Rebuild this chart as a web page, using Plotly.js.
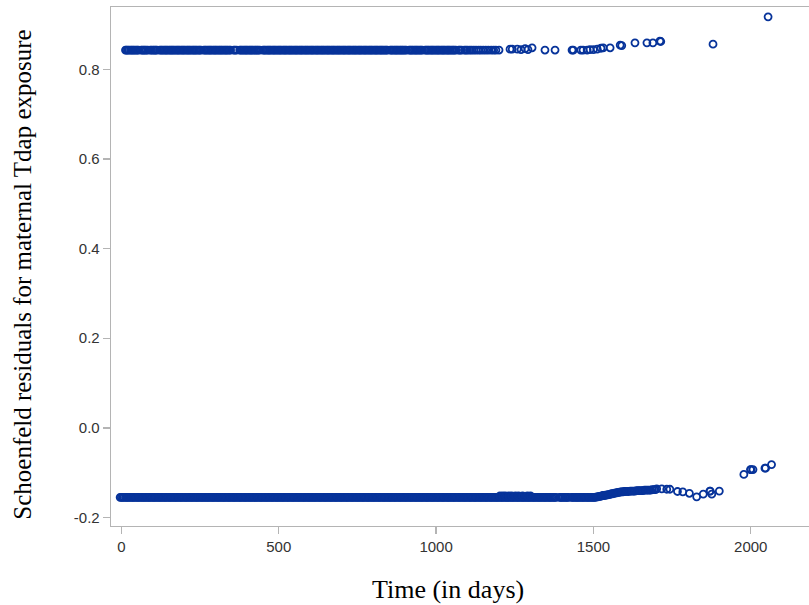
<!DOCTYPE html>
<html>
<head>
<meta charset="utf-8">
<script src="https://cdn.plot.ly/plotly-3.0.1.min.js"></script>
<style>html,body{margin:0;padding:0;background:#fff;}#chart{width:809px;height:605px;}</style>
</head>
<body>
<div id="chart"></div>
<script>
// ---- Data (time in days, Schoenfeld residual) ----
// Exposed events: dense band of event times at the upper residual level
var upperBandLevel = 0.843;
var upperBandX = [13,16,20,24,29,33,37,41,46,50,54,63,67,71,75,79,84,92,96,101,105,109,113,122,126,130,135,139,143,147,152,156,160,164,168,173,177,181,185,190,194,198,202,207,211,215,219,224,228,232,236,240,245,249,253,262,266,270,275,279,283,287,292,296,300,304,309,313,317,321,326,330,334,338,343,347,357,361,366,376,380,384,389,393,397,401,406,410,414,418,423,427,431,435,440,450,454,458,463,467,471,475,480,484,488,492,497,501,505,509,514,518,522,526,531,535,539,543,548,552,556,560,565,569,573,577,582,586,590,594,599,603,607,611,616,620,624,628,633,637,641,645,650,654,658,662,667,671,675,679,684,688,692,696,701,705,709,713,718,722,726,730,735,739,743,747,752,756,760,764,769,773,777,781,786,790,794,798,803,807,811,815,820,824,828,832,837,841,845,854,858,862,867,871,875,879,884,888,892,896,901,905,914,918,922,926,931,935,939,943,948,952,956,965,969,973,977,982,986,990,994,999,1003,1007,1011,1016,1020,1024,1028,1033,1037,1041,1045,1050,1054,1058,1063,1072,1076,1081,1090,1095,1100,1107,1113,1120,1127,1135,1142,1150,1158,1166,1175,1183,1190];
// Exposed events: sparse late points
var upperSparseX = [1200,1235,1242,1258,1270,1283,1292,1305,1346,1378,1432,1436,1460,1467,1480,1489,1500,1512,1524,1531,1553,1585,1590,1632,1670,1689,1711,1714,1880,2055];
var upperSparseY = [0.843,0.845,0.845,0.845,0.844,0.846,0.844,0.848,0.843,0.843,0.843,0.843,0.843,0.843,0.843,0.844,0.844,0.845,0.847,0.848,0.848,0.854,0.853,0.859,0.859,0.859,0.863,0.862,0.856,0.917];

// Unexposed events: dense band of event times at the lower residual level
var lowerBandLevel = -0.155;
var lowerBandX = [-4,0,4,8,13,17,21,25,30,34,38,42,47,51,55,59,64,68,72,76,81,85,89,93,98,102,106,110,115,119,123,127,132,136,140,144,149,153,157,161,166,170,174,178,183,187,191,195,200,204,208,212,217,221,225,229,234,238,242,246,251,255,259,263,268,272,276,280,285,289,293,297,302,306,310,314,319,323,327,331,336,340,344,348,353,357,361,365,370,374,378,382,387,391,395,399,404,408,412,416,421,425,429,433,438,442,446,450,455,459,463,467,472,476,480,484,489,493,497,501,506,510,514,518,523,527,531,535,540,544,548,552,557,561,565,569,574,578,582,586,591,595,599,603,608,612,616,620,625,629,633,637,642,646,650,654,659,663,667,671,676,680,684,688,693,697,701,705,710,714,718,722,727,731,735,739,744,748,752,756,761,765,769,773,778,782,786,790,795,799,803,807,812,816,820,824,829,833,837,841,846,850,854,858,863,867,871,875,880,884,888,892,897,901,905,909,914,918,922,926,931,935,939,943,948,952,956,960,965,969,973,977,982,986,990,994,999,1003,1007,1011,1016,1020,1024,1028,1033,1037,1041,1045,1050,1054,1058,1062,1067,1071,1075,1079,1084,1088,1092,1096,1101,1105,1109,1113,1118,1122,1126,1130,1135,1139,1143,1147,1152,1156,1160,1164,1169,1173,1177,1181,1186,1190,1194,1198,1203,1207,1211,1215,1220,1224,1228,1232,1237,1241,1245,1249,1254,1258,1262,1266,1271,1275,1279,1283,1288,1292,1296,1300,1305,1309,1313,1317,1322,1326,1330,1334,1339,1343,1347,1351,1356,1360,1364,1368,1373,1377,1381,1392,1396,1400,1404,1409,1413,1417,1421,1430,1434,1438,1443,1447,1451,1455,1460,1464,1468,1472,1477,1481,1485,1489,1494,1498];
// Unexposed events: slightly raised points around 1200-1300
var lowerRaisedX = [1203,1212,1220,1231,1240,1252,1262,1275,1290,1300];
var lowerRaisedY = [-0.152,-0.152,-0.152,-0.152,-0.152,-0.152,-0.152,-0.152,-0.152,-0.152];
// Unexposed events: rising tail
var lowerTailX = [1502,1506,1510,1514,1518,1522,1526,1530,1534,1538,1542,1546,1550,1554,1558,1562,1566,1570,1574,1578,1582,1586,1590,1594,1598,1602,1607,1612,1617,1622,1627,1632,1637,1642,1647,1652,1657,1662,1667,1672,1677,1682,1687,1692,1697,1701,1717,1733,1743,1767,1784,1805,1828,1849,1870,1871,1876,1900,1978,1999,2001,2007,2045,2047,2066];
var lowerTailY = [-0.155,-0.155,-0.154,-0.154,-0.153,-0.153,-0.152,-0.151,-0.151,-0.150,-0.150,-0.149,-0.149,-0.148,-0.147,-0.147,-0.146,-0.145,-0.145,-0.144,-0.144,-0.143,-0.143,-0.143,-0.142,-0.142,-0.142,-0.142,-0.141,-0.141,-0.141,-0.141,-0.140,-0.140,-0.140,-0.140,-0.140,-0.139,-0.139,-0.139,-0.139,-0.139,-0.138,-0.138,-0.138,-0.136,-0.136,-0.137,-0.137,-0.142,-0.143,-0.146,-0.154,-0.148,-0.141,-0.141,-0.148,-0.141,-0.104,-0.093,-0.093,-0.093,-0.090,-0.090,-0.082];

var xTickVals = [0, 500, 1000, 1500, 2000];
var xTickText = ["0", "500", "1000", "1500", "2000"];
var yTickVals = [-0.2, 0.0, 0.2, 0.4, 0.6, 0.8];
var yTickText = ["-0.2", "0.0", "0.2", "0.4", "0.6", "0.8"];

var xTitle = "Time (in days)";
var yTitle = "Schoenfeld residuals for maternal Tdap exposure";

// ---- Build traces ----
var allX = [].concat(upperBandX, upperSparseX, lowerBandX, lowerRaisedX, lowerTailX);
var allY = [].concat(
  upperBandX.map(function(){ return upperBandLevel; }),
  upperSparseY,
  lowerBandX.map(function(){ return lowerBandLevel; }),
  lowerRaisedY,
  lowerTailY
);

var markerColor = '#07339a';
var trace = {
  x: allX, y: allY, type: 'scatter', mode: 'markers',
  marker: { symbol: 'circle-open', size: 7, color: markerColor, line: { width: 1.8, color: markerColor } },
  hoverinfo: 'x+y', showlegend: false
};

var axisColor = '#b4b4b4';
var tickFont = { family: 'Liberation Sans, Arial, sans-serif', size: 15, color: '#333333' };
var xTitleFont = { family: 'Liberation Serif, Times New Roman, serif', size: 26, color: '#000000' };
var yTitleFont = { family: 'Liberation Serif, Times New Roman, serif', size: 25, color: '#000000' };

var layout = {
  width: 809, height: 605,
  margin: { l: 111, r: 0, t: 7, b: 79, pad: 0 },
  paper_bgcolor: '#ffffff', plot_bgcolor: '#ffffff',
  showlegend: false,
  xaxis: {
    range: [-33, 2185], tickmode: 'array', tickvals: xTickVals, ticktext: xTickText,
    showgrid: false, zeroline: false, showline: true, linecolor: axisColor, linewidth: 1.3,
    mirror: true, ticks: 'outside', ticklen: 7, tickcolor: axisColor, tickwidth: 1.3,
    tickfont: tickFont
  },
  yaxis: {
    range: [-0.219, 0.939], tickmode: 'array', tickvals: yTickVals, ticktext: yTickText,
    showgrid: false, zeroline: false, showline: true, linecolor: axisColor, linewidth: 1.3,
    mirror: false, ticks: 'outside', ticklen: 7, tickcolor: axisColor, tickwidth: 1.3,
    tickfont: tickFont
  },
  annotations: [
    { text: xTitle, xref: 'paper', yref: 'paper', x: 0.483, y: -0.1233, xanchor: 'center', yanchor: 'middle',
      showarrow: false, font: xTitleFont },
    { text: yTitle, xref: 'paper', yref: 'paper', x: -0.128, y: 0.4836, xanchor: 'center', yanchor: 'middle',
      textangle: -90, showarrow: false, font: yTitleFont }
  ]
};

Plotly.newPlot('chart', [trace], layout, { staticPlot: true, displayModeBar: false });
</script>
</body>
</html>
